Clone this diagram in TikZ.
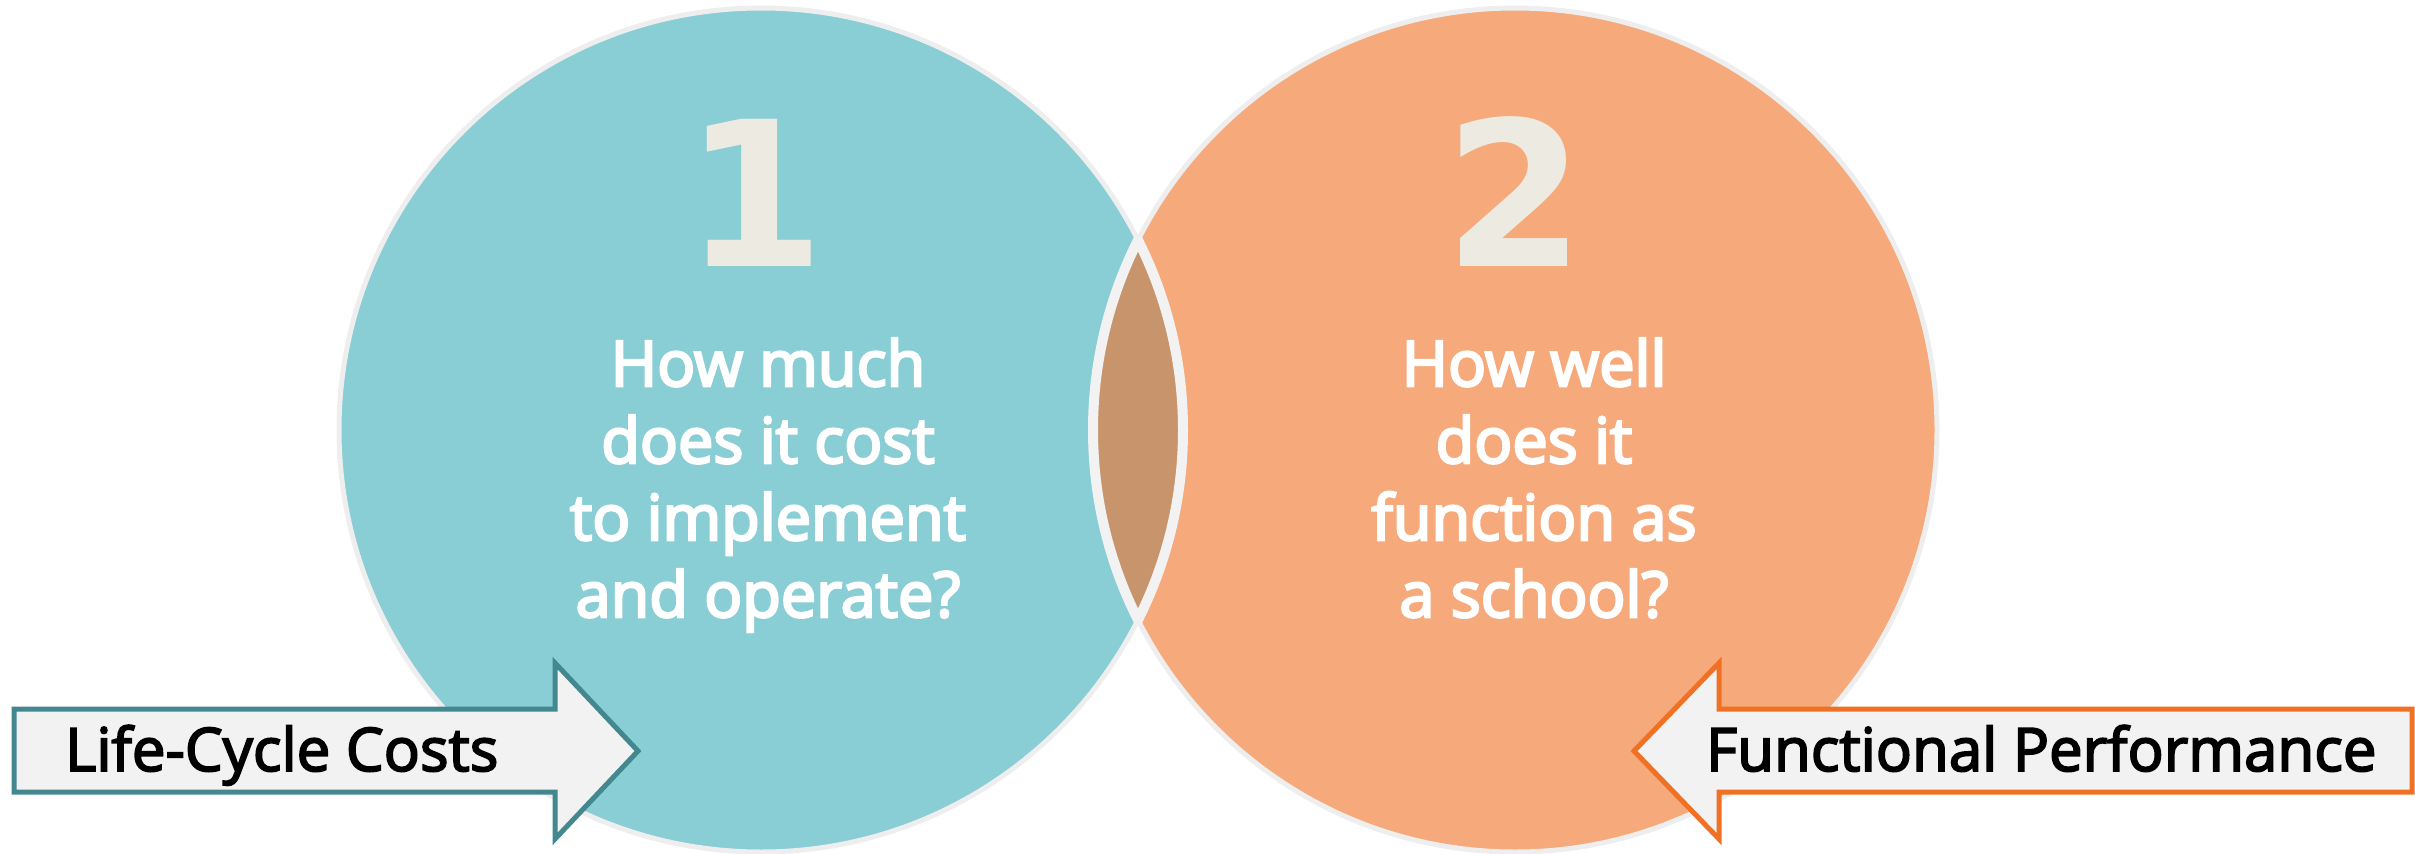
\documentclass[tikz,border=0pt]{standalone}
\usepackage{fontspec}
\setmainfont{Open Sans}
\newfontfamily\qfont{Open Sans}[FakeBold=4]
\newfontfamily\lfont{Open Sans}[FakeBold=3]
\newfontfamily\numfont{DejaVu Sans}
\definecolor{tealfill}{HTML}{89CDD5}
\definecolor{orangefill}{HTML}{F6A97A}
\definecolor{lensfill}{HTML}{C8946B}
\definecolor{numcol}{HTML}{EDEBE1}
\definecolor{ringcol}{HTML}{EEEEEE}
\definecolor{lensring}{HTML}{F2F2F2}
\definecolor{tealedge}{HTML}{43888E}
\definecolor{orangeedge}{HTML}{F07124}
\definecolor{arrowfill}{HTML}{F2F2F2}
\tikzset{
  bigdigit/.style={inner sep=0pt, anchor=base, text=numcol, font=\numfont\bfseries\fontsize{202}{202}\selectfont},
  qline/.style={inner sep=0pt, anchor=base, text=white, font=\qfont\fontsize{63}{77}\selectfont},
  arrowlabel/.style={inner sep=0pt, anchor=base west, text=black, font=\lfont\fontsize{60}{72}\selectfont},
  arrowshape/.style={fill=arrowfill, line width=5pt, line join=miter},
}
\begin{document}
\begin{tikzpicture}[x=1pt,y=-1pt]
\useasboundingbox (0,0) rectangle (2415,854);
\coordinate (cl) at (761,430);
\coordinate (cr) at (1515,430);
% circles
\fill[tealfill] (cl) circle (422);
\fill[orangefill] (cr) circle (422);
\draw[ringcol, line width=5pt] (cl) circle (422);
\draw[ringcol, line width=5pt] (cr) circle (422);
% lens
\begin{scope}
  \clip (cr) circle (422);
  \fill[lensfill] (cl) circle (422);
  \draw[lensring, line width=10pt] (cl) circle (422);
\end{scope}
\begin{scope}
  \clip (cl) circle (422);
  \draw[lensring, line width=10pt] (cr) circle (422);
\end{scope}
% digits
\node[bigdigit] (one) at (755,266) {1};
\node[bigdigit] (two) at (1515,266) {2};
% questions
\node[qline] (l1) at (768,386) {How much};
\node[qline] (l2) at (768,463) {does it cost};
\node[qline] (l3) at (768,540) {to implement};
\node[qline] (l4) at (768,617) {and operate?};
\node[qline] (r1) at (1534,386) {How well};
\node[qline] (r2) at (1534,463) {does it};
\node[qline] (r3) at (1534,540) {function as};
\node[qline] (r4) at (1534,617) {a school?};
% arrows
\draw[arrowshape, draw=tealedge] (14,709) -- (555,709) -- (555,663) -- (638,751) -- (555,839) -- (555,792) -- (14,792) -- cycle;
\draw[arrowshape, draw=orangeedge] (2412,709) -- (1719,709) -- (1719,663) -- (1634,751) -- (1719,839) -- (1719,792) -- (2412,792) -- cycle;
\node[arrowlabel] (lcc) at (65,771) {Life-Cycle Costs};
\node[arrowlabel] (fp) at (1706,771) {Functional Performance};
\end{tikzpicture}
\end{document}
